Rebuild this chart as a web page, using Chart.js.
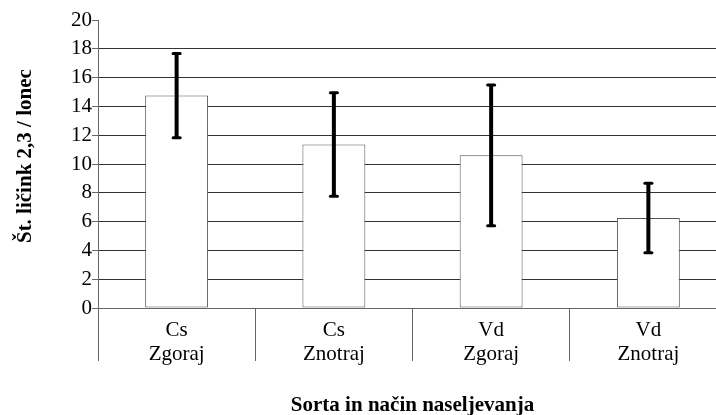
<!DOCTYPE html>
<html>
<head>
<meta charset="utf-8">
<script src="https://cdn.jsdelivr.net/npm/chart.js@4"></script>
<style>
  html, body { margin: 0; padding: 0; background: #fff; overflow: hidden; }
  canvas { display: block; }
</style>
</head>
<body>
<canvas id="chart" width="727" height="415"></canvas>
<script>
// ---------- Data ----------
const categories = [["Cs", "Zgoraj"], ["Cs", "Znotraj"], ["Vd", "Zgoraj"], ["Vd", "Znotraj"]];
const means = [14.75, 11.35, 10.6, 6.25];
const errors = [2.92, 3.59, 4.88, 2.42];
const yTitle = "\u00a0\u00a0\u00a0Št. ličink 2,3 / lonec";
const xTitle = "Sorta in način naseljevanja";

const FONT = "'Liberation Serif', 'Times New Roman', serif";

// ---------- Error bars ----------
const errorBars = {
  id: "errorBars",
  afterDatasetsDraw(chart) {
    const ctx = chart.ctx;
    const yScale = chart.scales.y;
    const meta = chart.getDatasetMeta(0);
    ctx.save();
    ctx.strokeStyle = "#000";
    meta.data.forEach((bar, i) => {
      const x = bar.x;
      const top = yScale.getPixelForValue(means[i] + errors[i]);
      const bottom = yScale.getPixelForValue(means[i] - errors[i]);
      ctx.lineWidth = 4;
      ctx.lineCap = "butt";
      ctx.beginPath();
      ctx.moveTo(x, top);
      ctx.lineTo(x, bottom);
      ctx.stroke();
      ctx.lineWidth = 3;
      ctx.lineCap = "round";
      [top, bottom].forEach(y => {
        ctx.beginPath();
        ctx.moveTo(x - 3.5, y);
        ctx.lineTo(x + 3.5, y);
        ctx.stroke();
      });
    });
    ctx.restore();
  },
};

// ---------- Chart ----------
new Chart(document.getElementById("chart"), {
  type: "bar",
  data: {
    labels: categories,
    datasets: [
      {
        data: means,
        backgroundColor: "#fff",
        borderColor: "#555",
        borderWidth: 1,
        borderSkipped: false,
        barPercentage: 0.4,
        categoryPercentage: 1,
      },
    ],
  },
  options: {
    responsive: false,
    animation: false,
    layout: { padding: { top: 20, right: 0, bottom: 0, left: 0 } },
    plugins: {
      legend: { display: false },
      tooltip: { enabled: false },
    },
    scales: {
      x: {
        offset: true,
        afterFit: s => { s.height = 107; },
        grid: {
          offset: true,
          drawOnChartArea: false,
          tickLength: 53,
          color: "#666",
          tickColor: "#666",
        },
        border: { display: true, color: "#666" },
        ticks: {
          padding: -43,
          color: "#000",
          font: { family: FONT, size: 21, lineHeight: 1.15 },
          maxRotation: 0,
        },
        title: {
          display: true,
          text: xTitle,
          color: "#000",
          font: { family: FONT, size: 21, weight: "bold", lineHeight: 1.15 },
          padding: { top: 0, bottom: -3 },
        },
      },
      y: {
        min: 0,
        max: 20,
        afterFit: s => { s.width = 98; },
        ticks: {
          stepSize: 2,
          padding: 0,
          color: "#000",
          font: { family: FONT, size: 21 },
        },
        grid: {
          color: c => (c.tick && c.tick.value === 20 ? "rgba(0,0,0,0)" : "#333"),
          tickColor: "#666",
          tickLength: 6,
        },
        border: { display: true, color: "#666" },
        title: {
          display: true,
          text: yTitle,
          color: "#000",
          font: { family: FONT, size: 21, weight: "bold", lineHeight: 1.15 },
          padding: { top: 14, bottom: 0 },
        },
      },
    },
  },
  plugins: [errorBars],
});
</script>
</body>
</html>
